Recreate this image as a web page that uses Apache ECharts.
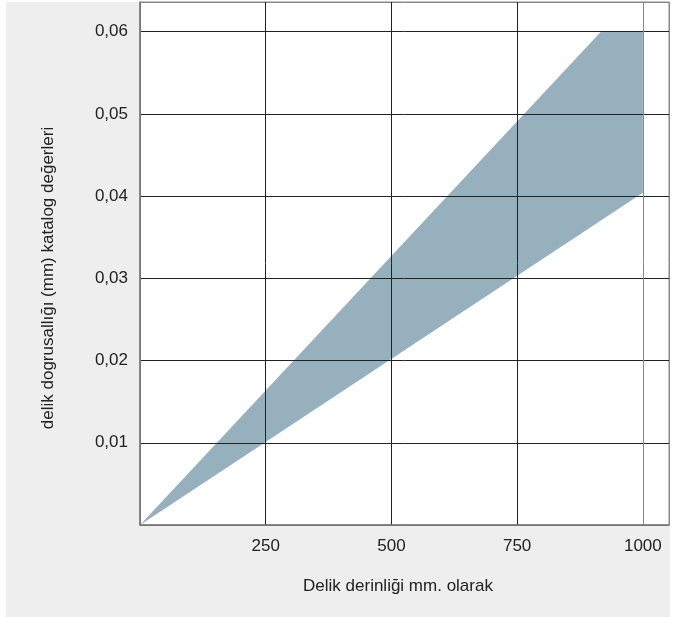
<!DOCTYPE html>
<html>
<head>
<meta charset="utf-8">
<script src="https://cdn.jsdelivr.net/npm/echarts@6/dist/echarts.min.js"></script>
<style>
html,body{margin:0;padding:0;background:#fff;}
#chart{width:679px;height:617px;}
</style>
</head>
<body>
<div id="chart"></div>
<script>
// Band upper edge (x in mm, y in mm)
var upperX = [0, 917, 1000];
var upperY = [0, 0.06, 0.06];
// Band lower edge
var lowerX = [0, 1000];
var lowerY = [0, 0.0404];
// Tick labels
var xTicks = [250, 500, 750, 1000];
var yTicks = ['0,01', '0,02', '0,03', '0,04', '0,05', '0,06'];
var xTitle = 'Delik derinliği mm. olarak';
var yTitle = 'delik dogrusallığı (mm) katalog değerleri';

var font = '"Liberation Sans", Arial, Helvetica, sans-serif';
var chart = echarts.init(document.getElementById('chart'), null, {renderer: 'canvas'});

chart.setOption({
  animation: false,
  textStyle: {fontFamily: font},
  graphic: [
    {type: 'rect', z: -10, silent: true, shape: {x: 6, y: 2, width: 664, height: 615}, style: {fill: '#eeeeee'}},
    {type: 'text', z: 10, x: 398, y: 586, style: {text: xTitle, fill: '#222', font: '17px ' + font, textAlign: 'center', textVerticalAlign: 'middle'}},
    {type: 'text', z: 10, x: 48, y: 278, rotation: Math.PI / 2, style: {text: yTitle, fill: '#222', font: '17px ' + font, textAlign: 'center', textVerticalAlign: 'middle'}}
  ],
  grid: {left: 140, right: 10, top: 2, bottom: 92, show: true, backgroundColor: '#ffffff', borderColor: '#888', borderWidth: 1},
  xAxis: {
    type: 'value', min: 0, max: 1052, interval: 250, z: 5,
    axisLine: {show: true, lineStyle: {color: '#777', width: 1.5}},
    axisTick: {show: false},
    axisLabel: {showMinLabel: false, showMaxLabel: false, color: '#222', fontSize: 17, margin: 13, fontFamily: font,
      formatter: function (v) { return xTicks.indexOf(v) >= 0 ? String(v) : ''; }},
    splitLine: {show: true, lineStyle: {color: ['#777', '#222', '#222', '#222', '#888', '#888'], width: 1}}
  },
  yAxis: {
    type: 'value', min: 0, max: 0.0636, interval: 0.01, z: 5,
    axisLine: {show: true, lineStyle: {color: '#777', width: 1.5}},
    axisTick: {show: false},
    axisLabel: {showMinLabel: false, showMaxLabel: false, color: '#222', fontSize: 17, margin: 12, fontFamily: font,
      formatter: function (v) { var i = Math.round(v * 100) - 1; return (i >= 0 && i < yTicks.length && Math.abs(v * 100 - Math.round(v * 100)) < 1e-6) ? yTicks[i] : ''; }},
    splitLine: {show: true, lineStyle: {color: ['#777', '#222', '#222', '#222', '#222', '#222', '#222', '#888'], width: 1}}
  },
  series: [{
    type: 'custom', z: 1, clip: true,
    data: [[0, 0]],
    renderItem: function (params, api) {
      var pts = [];
      for (var i = 0; i < upperX.length; i++) pts.push(api.coord([upperX[i], upperY[i]]));
      for (var j = lowerX.length - 1; j >= 0; j--) pts.push(api.coord([lowerX[j], lowerY[j]]));
      return {type: 'polygon', shape: {points: pts}, style: {fill: '#97b0be', stroke: null}};
    }
  }]
});
</script>
</body>
</html>
